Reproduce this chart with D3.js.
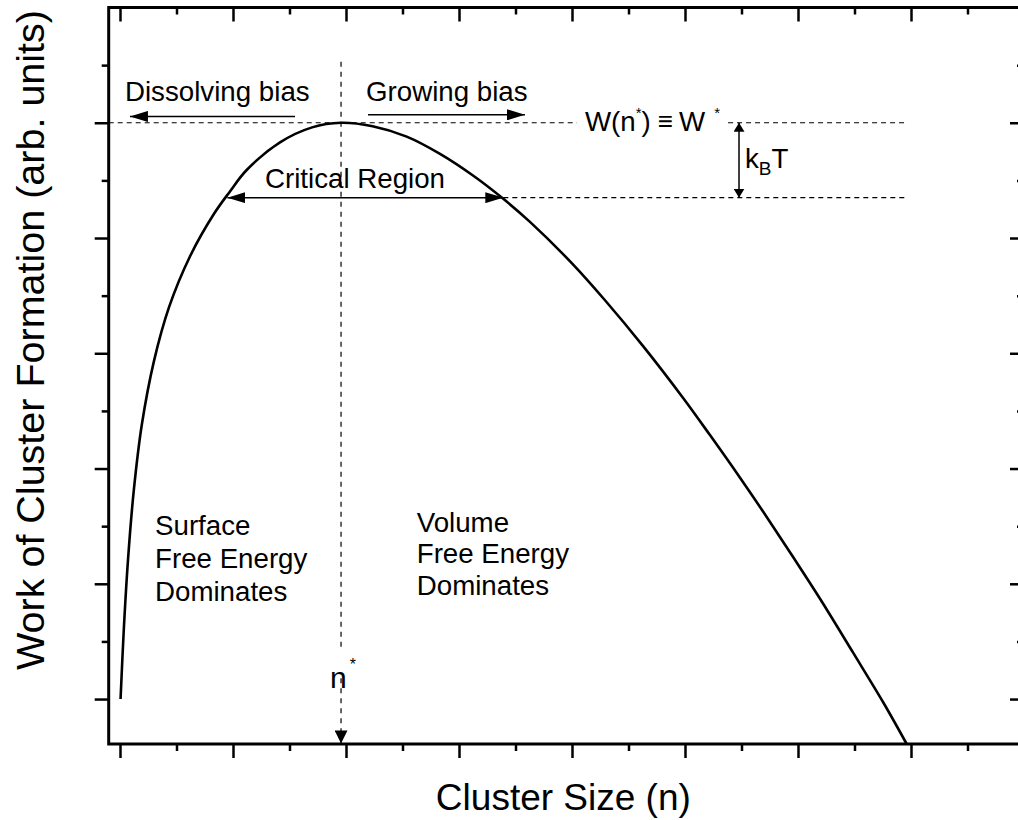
<!DOCTYPE html>
<html>
<head>
<meta charset="utf-8">
<script src="https://cdn.jsdelivr.net/npm/d3@7"></script>
<style>
  body { margin: 0; background: #fff; }
  svg text { font-family: "Liberation Sans", Arial, Helvetica, sans-serif; fill: #000; }
</style>
</head>
<body>
<svg id="chart" width="1018" height="820"></svg>
<script>
// Work of cluster formation W(n) against cluster size n (arbitrary units)
const clusterSize = [0.005, 0.034, 0.071, 0.122, 0.193, 0.30, 0.434, 0.619, 0.832, 0.97,
                     1.121, 1.416, 1.70, 1.956, 2.235, 2.537, 2.832, 3.127, 3.392, 3.628,
                     4.0, 4.292, 4.631, 4.985, 5.221, 5.487, 5.723, 5.958, 6.195, 6.489,
                     6.755, 6.962];
const work = [0.0, 0.61, 1.21, 1.81, 2.38, 2.93, 3.40, 3.84, 4.21, 4.40,
              4.59, 4.83, 4.96, 5.0, 4.97, 4.88, 4.73, 4.54, 4.34, 4.14,
              3.78, 3.46, 3.06, 2.61, 2.29, 1.92, 1.58, 1.23, 0.87, 0.40,
              -0.03, -0.39];

// Axis ticks (no tick labels are shown)
const xMajorTicks = [0, 1, 2, 3, 4, 5, 6, 7, 8];
const xMinorTicks = [0.5, 1.5, 2.5, 3.5, 4.5, 5.5, 6.5, 7.5];
const yMajorTicks = [0, 1, 2, 3, 4, 5];
const yMinorTicks = [0.5, 1.5, 2.5, 3.5, 4.5, 5.5];

// Key quantities
const criticalSize = 1.956;        // n*
const criticalWork = 5.0;          // W*
const thermalLevel = 4.35;         // W* - kBT
const criticalRange = [0.97, 3.392];

const svg = d3.select("#chart");

const x = d3.scaleLinear().domain([-0.1, 8.0]).range([108.7, 1024]);
const y = d3.scaleLinear().domain([-0.39, 6.0]).range([744, 7.5]);

// arrowhead markers
const defs = svg.append("defs");
function marker(id, len, half) {
  defs.append("marker")
    .attr("id", id)
    .attr("viewBox", `0 ${-half} ${len} ${2 * half}`)
    .attr("refX", len).attr("refY", 0)
    .attr("markerUnits", "userSpaceOnUse")
    .attr("markerWidth", len).attr("markerHeight", 2 * half)
    .attr("orient", "auto-start-reverse")
    .append("path")
    .attr("d", `M0,${-half}L${len},0L0,${half}Z`)
    .attr("fill", "#000");
}
marker("headBig", 18, 5.5);
marker("headSmall", 9, 5.5);
marker("headDown", 13, 6.5);

// ---- axes frame with ticks ----
const tickStyle = g => {
  g.select(".domain").remove();
  g.selectAll(".tick line").attr("stroke", "#000").attr("stroke-width", 2.5);
};

svg.append("g").attr("transform", `translate(0,${y.range()[0]})`)
  .call(d3.axisBottom(x).tickValues(xMajorTicks).tickSize(14).tickFormat(""))
  .call(tickStyle);
svg.append("g").attr("transform", `translate(0,${y.range()[0]})`)
  .call(d3.axisBottom(x).tickValues(xMinorTicks).tickSize(7).tickFormat(""))
  .call(tickStyle);
svg.append("g").attr("transform", `translate(0,${y.range()[1]})`)
  .call(d3.axisTop(x).tickValues(xMajorTicks).tickSize(-14).tickFormat(""))
  .call(tickStyle);
svg.append("g").attr("transform", `translate(0,${y.range()[1]})`)
  .call(d3.axisTop(x).tickValues(xMinorTicks).tickSize(-7).tickFormat(""))
  .call(tickStyle);

svg.append("g").attr("transform", `translate(${x.range()[0]},0)`)
  .call(d3.axisLeft(y).tickValues(yMajorTicks).tickSize(14).tickFormat(""))
  .call(tickStyle);
svg.append("g").attr("transform", `translate(${x.range()[0]},0)`)
  .call(d3.axisLeft(y).tickValues(yMinorTicks).tickSize(7).tickFormat(""))
  .call(tickStyle);
svg.append("g").attr("transform", `translate(${x.range()[1]},0)`)
  .call(d3.axisRight(y).tickValues(yMajorTicks).tickSize(-14).tickFormat(""))
  .call(tickStyle);
svg.append("g").attr("transform", `translate(${x.range()[1]},0)`)
  .call(d3.axisRight(y).tickValues(yMinorTicks).tickSize(-7).tickFormat(""))
  .call(tickStyle);

svg.append("rect")
  .attr("x", x.range()[0]).attr("y", y.range()[1])
  .attr("width", x.range()[1] - x.range()[0])
  .attr("height", y.range()[0] - y.range()[1])
  .attr("fill", "none").attr("stroke", "#000").attr("stroke-width", 3);

// ---- reference lines ----
const dash = "5,4";
const hLine = (n0, n1, w) => svg.append("line")
  .attr("x1", x(n0)).attr("x2", x(n1)).attr("y1", y(w)).attr("y2", y(w))
  .attr("stroke", "#000").attr("stroke-width", 1.2).attr("stroke-dasharray", dash);

hLine(-0.1, 4.044, criticalWork);
hLine(5.381, 6.973, criticalWork);
hLine(criticalRange[1], 6.973, thermalLevel);

// vertical line at n*
svg.append("line")
  .attr("x1", x(criticalSize)).attr("x2", x(criticalSize))
  .attr("y1", y(5.53)).attr("y2", y(0.41))
  .attr("stroke", "#000").attr("stroke-width", 1.2).attr("stroke-dasharray", "5,5");
svg.append("line")
  .attr("x1", x(criticalSize)).attr("x2", x(criticalSize))
  .attr("y1", y(0.18)).attr("y2", y(-0.385))
  .attr("stroke", "#000").attr("stroke-width", 1.2).attr("stroke-dasharray", "5,5")
  .attr("marker-end", "url(#headDown)");

// ---- the curve ----
const pts = clusterSize.map((n, i) => [n, work[i]]);
svg.append("path")
  .datum(pts)
  .attr("d", d3.line().x(d => x(d[0])).y(d => y(d[1])).curve(d3.curveCatmullRom.alpha(0.5)))
  .attr("fill", "none").attr("stroke", "#000").attr("stroke-width", 2.6);

// ---- arrows ----
const arrow = (n0, w0, n1, w1, start, end) => {
  const l = svg.append("line")
    .attr("x1", x(n0)).attr("y1", y(w0)).attr("x2", x(n1)).attr("y2", y(w1))
    .attr("stroke", "#000").attr("stroke-width", 1.5);
  if (start) l.attr("marker-start", `url(#${start})`);
  if (end) l.attr("marker-end", `url(#${end})`);
};
arrow(1.549, 5.055, 0.088, 5.055, null, "headBig");               // dissolving bias
arrow(2.195, 5.069, 3.584, 5.069, null, "headBig");               // growing bias
arrow(criticalRange[0] - 0.02, thermalLevel, criticalRange[1], thermalLevel, "headBig", "headBig");
arrow(5.478, criticalWork, 5.478, thermalLevel, "headSmall", "headSmall"); // kBT

// ---- text ----
const fs = 27.7;
const label = (n, w, str, size) => svg.append("text")
  .attr("x", x(n)).attr("y", y(w)).attr("font-size", size || fs).text(str);

label(0.044, 5.185, "Dissolving bias");
label(2.177, 5.185, "Growing bias");
label(1.283, 4.436, "Critical Region");

const wl = svg.append("text").attr("x", x(4.115)).attr("y", y(4.925)).attr("font-size", fs);
wl.append("tspan").text("W(n");
wl.append("tspan").attr("font-size", 15).attr("dy", -13).text("*");
wl.append("tspan").attr("dy", 13).text(")");
wl.append("tspan").attr("font-size", 26).attr("dx", 7).attr("dy", -1).text("≡");
wl.append("tspan").attr("dx", 6).attr("dy", 1).text("W");
wl.append("tspan").attr("font-size", 15).attr("dx", 9).attr("dy", -13).text("*");

const kt = svg.append("text").attr("x", x(5.531)).attr("y", y(4.609)).attr("font-size", fs);
kt.append("tspan").text("k");
kt.append("tspan").attr("font-size", 19).attr("dy", 7).text("B");
kt.append("tspan").attr("dy", -7).text("T");

const ns = svg.append("text").attr("x", x(1.858)).attr("y", y(0.095)).attr("font-size", 30);
ns.append("tspan").text("n");
ns.append("tspan").attr("font-size", 16).attr("dx", 3).attr("dy", -18).text("*");

["Surface", "Free Energy", "Dominates"].forEach((s, i) =>
  label(0.31, [1.424, 1.137, 0.851][i], s));
["Volume", "Free Energy", "Dominates"].forEach((s, i) =>
  label(2.626, [1.452, 1.181, 0.903][i], s));

// axis titles
svg.append("text")
  .attr("x", (x(-0.1) + 1018) / 2).attr("y", 810)
  .attr("text-anchor", "middle").attr("font-size", 37)
  .text("Cluster Size (n)");
svg.append("text")
  .attr("transform", `translate(44,340) rotate(-90)`)
  .attr("text-anchor", "middle").attr("font-size", 39.5)
  .text("Work of Cluster Formation (arb. units)");
</script>
</body>
</html>
